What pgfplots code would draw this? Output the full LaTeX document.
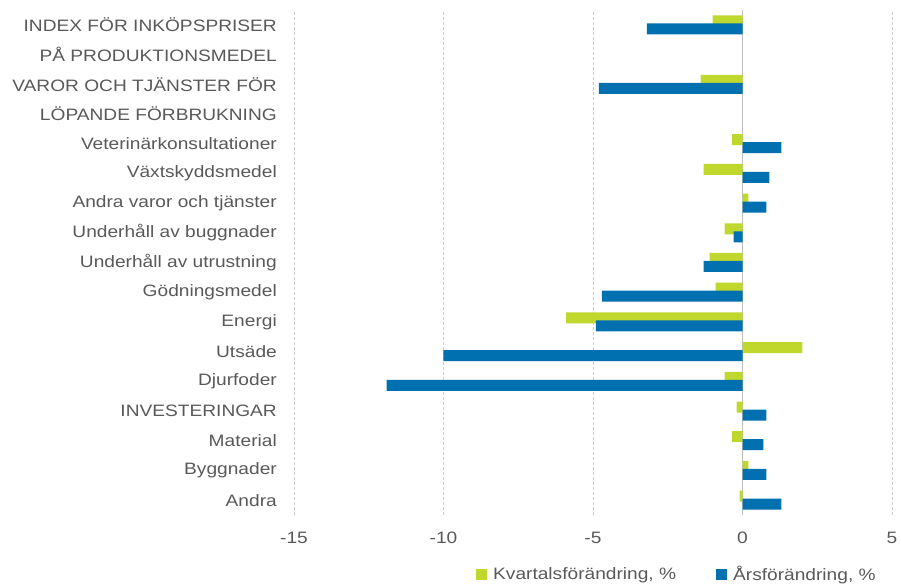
\documentclass[border=0pt]{standalone}
\usepackage{fontspec}
\setmainfont{Liberation Sans}[FakeStretch=1.16]
\usepackage{pgfplots}
\pgfplotsset{compat=1.18}
\definecolor{kgreen}{RGB}{192,215,46}
\definecolor{ablue}{RGB}{0,112,176}
\definecolor{txt}{RGB}{89,89,89}
\definecolor{gridc}{RGB}{205,205,205}
\definecolor{zeroc}{RGB}{190,190,190}
\begin{document}
\begin{tikzpicture}[font=\fontsize{16.5bp}{19bp}\selectfont]
\begin{axis}[
  at={(0,0)}, anchor=south west,
  scale only axis, width=598bp, height=505bp,
  xmin=-15, xmax=5, ymin=-0.5, ymax=16.5,
  enlargelimits=false,
  xtick={-15,-10,-5,0,5},
  ytick={0,...,16},
  yticklabels={Andra, Byggnader, Material, INVESTERINGAR, Djurfoder, Utsäde, Energi, Gödningsmedel, Underhåll av utrustning, Underhåll av buggnader, Andra varor och tjänster, Växtskyddsmedel, Veterinärkonsultationer, LÖPANDE FÖRBRUKNING, VAROR OCH TJÄNSTER FÖR, PÅ PRODUKTIONSMEDEL, INDEX FÖR INKÖPSPRISER},
  axis line style={draw=none},
  tick style={draw=none},
  major tick length=0pt,
  xmajorgrids,
  grid style={gridc, line width=0.8bp, dash pattern=on 3bp off 2bp},
  extra x ticks={0},
  extra x tick labels={},
  extra x tick style={grid style={zeroc, line width=1bp, solid}},
  ticklabel style={text=txt},
  xticklabel style={anchor=north, inner sep=0pt, yshift=-16.5bp},
  yticklabel style={anchor=east, inner sep=0pt, xshift=-17bp},
  /pgf/number format/assume math mode=true,
  xbar, bar width=11bp,
  legend style={draw=none, fill=none, inner sep=0pt, legend columns=2,
    at={(0.3043,-0.1178)}, anchor=west,
    nodes={inner sep=0pt, text=txt},
    column sep=6bp,
    /tikz/every even column/.append style={column sep=40bp}},
  legend image code/.code={\fill[#1] (0bp,-5.5bp) rectangle (11bp,5.5bp);},
]
\addplot[fill=kgreen, draw=none, bar shift=4bp] coordinates {
(-1.0,16) (-1.4,14) (-0.35,12) (-1.3,11) (0.2,10) (-0.6,9) (-1.1,8) (-0.9,7)
(-5.9,6) (2.0,5) (-0.6,4) (-0.2,3) (-0.35,2) (0.2,1) (-0.1,0)};
\addlegendentry{Kvartalsförändring, \%}
\addplot[fill=ablue, draw=none, bar shift=-4bp] coordinates {
(-3.2,16) (-4.8,14) (1.3,12) (0.9,11) (0.8,10) (-0.3,9) (-1.3,8) (-4.7,7)
(-4.9,6) (-10.0,5) (-11.9,4) (0.8,3) (0.7,2) (0.8,1) (1.3,0)};
\addlegendentry{Årsförändring, \%}
\end{axis}
\path[use as bounding box] (-294bp,-69bp) rectangle (607bp,515bp);
\end{tikzpicture}
\end{document}
